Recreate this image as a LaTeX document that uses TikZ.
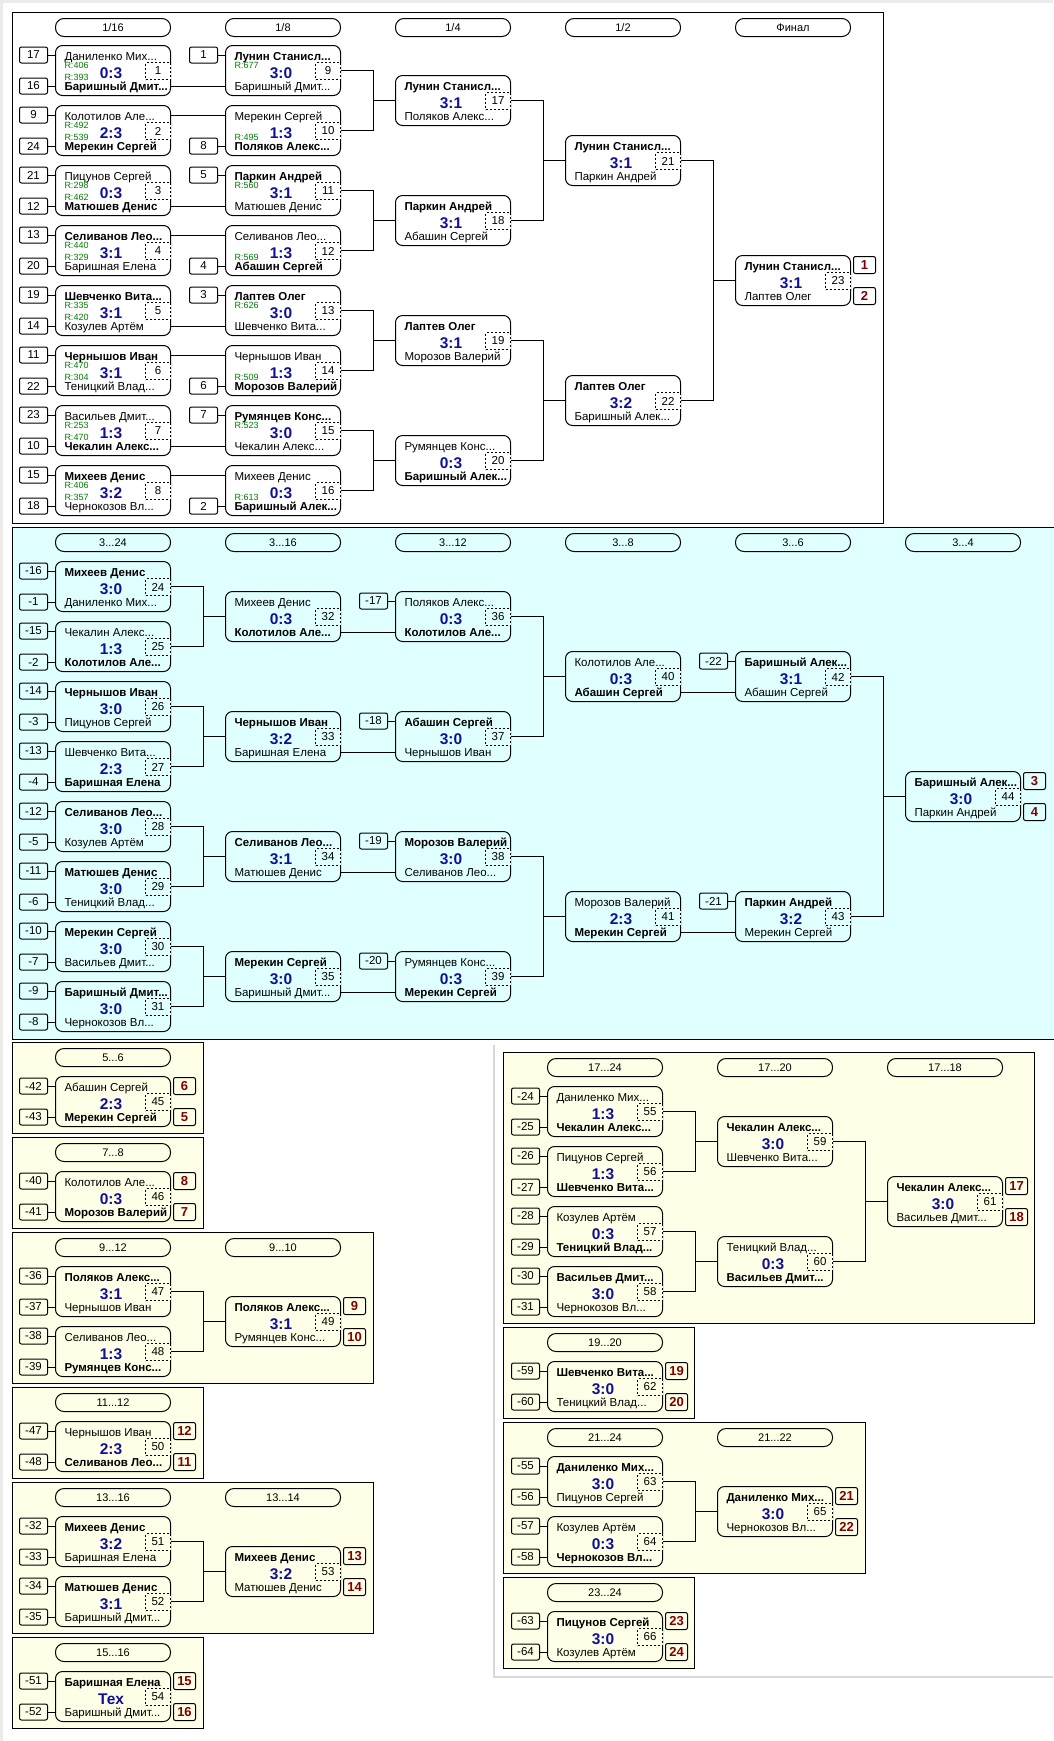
\documentclass[tikz,border=0pt]{standalone}
\usepackage{fontspec}
\setmainfont{Liberation Sans}
\definecolor{scoreblue}{RGB}{16,16,150}
\definecolor{rankred}{RGB}{128,0,0}
\definecolor{ratinggreen}{RGB}{0,128,0}
\definecolor{cyanbg}{RGB}{224,255,255}
\definecolor{yellowbg}{RGB}{255,255,232}
\colorlet{secfill}{white}
\tikzset{
  matchbox/.style={draw, rounded corners=7pt, minimum width=115pt, minimum height=50pt, inner sep=0pt},
  pname/.style={anchor=base west, inner sep=0pt, font=\fontsize{11.5}{13}\selectfont},
  score/.style={anchor=base, inner sep=0pt, text=scoreblue, font=\fontsize{15.5}{17}\selectfont\bfseries},
  numbox/.style={draw, fill=secfill, dash pattern=on 2pt off 2pt, minimum width=25pt, minimum height=17pt, inner sep=0pt, font=\fontsize{11.5}{13}\selectfont},
  seedbox/.style={draw, rounded corners=2pt, minimum width=28pt, minimum height=16pt, inner sep=0pt, font=\fontsize{11.5}{13}\selectfont},
  rankbox/.style={draw, rounded corners=2pt, minimum width=22pt, minimum height=17pt, inner sep=0pt, text=rankred, font=\fontsize{13}{15}\selectfont\bfseries},
  stagebox/.style={draw, rounded corners=8.5pt, minimum width=115pt, minimum height=18pt, inner sep=0pt, font=\fontsize{11}{13}\selectfont},
  rating/.style={anchor=base west, inner sep=0pt, text=ratinggreen, font=\fontsize{9}{10}\selectfont},
  section/.style={draw, line width=1pt},
  panelline/.style={draw=black!15, line width=2pt},
}
\newcommand{\win}[1]{\textbf{#1}}
% one match: name, x, y (top left), upper player, score, lower player, number
\newcommand{\match}[7]{%
  \node[matchbox, anchor=north west] (#1) at (#2,#3) {};
  \coordinate (#1tl) at ([yshift=-10pt]#1.north west);
  \coordinate (#1bl) at ([yshift=-41pt]#1.north west);
  \coordinate (#1tr) at ([yshift=-10pt]#1.north east);
  \coordinate (#1br) at ([yshift=-41pt]#1.north east);
  \node[pname] (#1t) at ([xshift=9pt,yshift=-15pt]#1.north west) {#4};
  \node[pname] (#1b) at ([xshift=9pt,yshift=-45pt]#1.north west) {#6};
  \node[score] (#1sc) at ([xshift=56pt,yshift=-33pt]#1.north west) {#5};
  \node[numbox, anchor=east] (#1n) at ([yshift=-0.5pt]#1.east) {#7};}
\newcommand{\seed}[3]{%
  \node[seedbox, anchor=east] (#1s#2) at ([xshift=-7pt]#1#2l) {#3};
  \draw (#1s#2) -- (#1#2l);}
\newcommand{\ratup}[2]{\node[rating] (#1rt) at ([xshift=9pt,yshift=-23.5pt]#1.north west) {R:#2};}
\newcommand{\ratdn}[2]{\node[rating] (#1rb) at ([xshift=9pt,yshift=-35pt]#1.north west) {R:#2};}
\newcommand{\rank}[3]{%
  \node[rankbox, anchor=north west] (#1ra) at ([xshift=2pt,yshift=-1pt]#1.north east) {#2};
  \node[rankbox, anchor=south west] (#1rb) at ([xshift=2pt,yshift=1pt]#1.south east) {#3};}
\newcommand{\stage}[4]{\node[stagebox, anchor=north west] (#1) at (#2,#3) {#4};}
\newcommand{\pairto}[3]{%
  \draw (#1.east) -- ++(32,0) |- (#2.east) (#1.east) ++(32,0) |- (#3.west);}
\begin{document}
\begin{tikzpicture}[x=1pt, y=-1pt, line width=1pt]
\useasboundingbox (0,0) rectangle (1053,1741);
\fill[black!8] (0,0) rectangle (3,1741);
\fill[black!8] (0,0) rectangle (1053,3);
\draw[panelline] (494,1045) -- (494,1677) -- (1053,1677);

% main draw
\colorlet{secfill}{white}
\draw[section] (12,12) rectangle (883,523);
\stage{h16}{55}{18}{1/16}
\stage{h8}{225}{18}{1/8}
\stage{h4}{395}{18}{1/4}
\stage{h2}{565}{18}{1/2}
\stage{hf}{735}{18}{Финал}
\match{m1}{55}{45}{Даниленко Мих...}{0:3}{\win{Баришный Дмит...}}{1}
\match{m2}{55}{105}{Колотилов Але...}{2:3}{\win{Мерекин Сергей}}{2}
\match{m3}{55}{165}{Пицунов Сергей}{0:3}{\win{Матюшев Денис}}{3}
\match{m4}{55}{225}{\win{Селиванов Лео...}}{3:1}{Баришная Елена}{4}
\match{m5}{55}{285}{\win{Шевченко Вита...}}{3:1}{Козулев Артём}{5}
\match{m6}{55}{345}{\win{Чернышов Иван}}{3:1}{Теницкий Влад...}{6}
\match{m7}{55}{405}{Васильев Дмит...}{1:3}{\win{Чекалин Алекс...}}{7}
\match{m8}{55}{465}{\win{Михеев Денис}}{3:2}{Чернокозов Вл...}{8}
\seed{m1}{t}{17} \seed{m1}{b}{16} \ratup{m1}{406} \ratdn{m1}{393}
\seed{m2}{t}{9}  \seed{m2}{b}{24} \ratup{m2}{492} \ratdn{m2}{539}
\seed{m3}{t}{21} \seed{m3}{b}{12} \ratup{m3}{298} \ratdn{m3}{462}
\seed{m4}{t}{13} \seed{m4}{b}{20} \ratup{m4}{440} \ratdn{m4}{329}
\seed{m5}{t}{19} \seed{m5}{b}{14} \ratup{m5}{335} \ratdn{m5}{420}
\seed{m6}{t}{11} \seed{m6}{b}{22} \ratup{m6}{470} \ratdn{m6}{304}
\seed{m7}{t}{23} \seed{m7}{b}{10} \ratup{m7}{253} \ratdn{m7}{470}
\seed{m8}{t}{15} \seed{m8}{b}{18} \ratup{m8}{406} \ratdn{m8}{357}
\match{m9}{225}{45}{\win{Лунин Станисл...}}{3:0}{Баришный Дмит...}{9}
\match{m10}{225}{105}{Мерекин Сергей}{1:3}{\win{Поляков Алекс...}}{10}
\match{m11}{225}{165}{\win{Паркин Андрей}}{3:1}{Матюшев Денис}{11}
\match{m12}{225}{225}{Селиванов Лео...}{1:3}{\win{Абашин Сергей}}{12}
\match{m13}{225}{285}{\win{Лаптев Олег}}{3:0}{Шевченко Вита...}{13}
\match{m14}{225}{345}{Чернышов Иван}{1:3}{\win{Морозов Валерий}}{14}
\match{m15}{225}{405}{\win{Румянцев Конс...}}{3:0}{Чекалин Алекс...}{15}
\match{m16}{225}{465}{Михеев Денис}{0:3}{\win{Баришный Алек...}}{16}
\seed{m9}{t}{1}  \ratup{m9}{677}
\seed{m10}{b}{8} \ratdn{m10}{495}
\seed{m11}{t}{5} \ratup{m11}{560}
\seed{m12}{b}{4} \ratdn{m12}{569}
\seed{m13}{t}{3} \ratup{m13}{626}
\seed{m14}{b}{6} \ratdn{m14}{509}
\seed{m15}{t}{7} \ratup{m15}{523}
\seed{m16}{b}{2} \ratdn{m16}{613}
\draw (m1br) -- (m9bl);
\draw (m2tr) -- (m10tl);
\draw (m3br) -- (m11bl);
\draw (m4tr) -- (m12tl);
\draw (m5br) -- (m13bl);
\draw (m6tr) -- (m14tl);
\draw (m7br) -- (m15bl);
\draw (m8tr) -- (m16tl);
\match{m17}{395}{75}{\win{Лунин Станисл...}}{3:1}{Поляков Алекс...}{17}
\match{m18}{395}{195}{\win{Паркин Андрей}}{3:1}{Абашин Сергей}{18}
\match{m19}{395}{315}{\win{Лаптев Олег}}{3:1}{Морозов Валерий}{19}
\match{m20}{395}{435}{Румянцев Конс...}{0:3}{\win{Баришный Алек...}}{20}
\match{m21}{565}{135}{\win{Лунин Станисл...}}{3:1}{Паркин Андрей}{21}
\match{m22}{565}{375}{\win{Лаптев Олег}}{3:2}{Баришный Алек...}{22}
\match{m23}{735}{255}{\win{Лунин Станисл...}}{3:1}{Лаптев Олег}{23}
\rank{m23}{1}{2}
\pairto{m9}{m10}{m17}
\pairto{m11}{m12}{m18}
\pairto{m13}{m14}{m19}
\pairto{m15}{m16}{m20}
\pairto{m17}{m18}{m21}
\pairto{m19}{m20}{m22}
\pairto{m21}{m22}{m23}

% places 3..24
\colorlet{secfill}{cyanbg}
\draw[section, fill=cyanbg] (12,527) rectangle (1056,1039);
\stage{h324}{55}{533}{3...24}
\stage{h316}{225}{533}{3...16}
\stage{h312}{395}{533}{3...12}
\stage{h38}{565}{533}{3...8}
\stage{h36}{735}{533}{3...6}
\stage{h34}{905}{533}{3...4}
\match{m24}{55}{561}{\win{Михеев Денис}}{3:0}{Даниленко Мих...}{24}
\match{m25}{55}{621}{Чекалин Алекс...}{1:3}{\win{Колотилов Але...}}{25}
\match{m26}{55}{681}{\win{Чернышов Иван}}{3:0}{Пицунов Сергей}{26}
\match{m27}{55}{741}{Шевченко Вита...}{2:3}{\win{Баришная Елена}}{27}
\match{m28}{55}{801}{\win{Селиванов Лео...}}{3:0}{Козулев Артём}{28}
\match{m29}{55}{861}{\win{Матюшев Денис}}{3:0}{Теницкий Влад...}{29}
\match{m30}{55}{921}{\win{Мерекин Сергей}}{3:0}{Васильев Дмит...}{30}
\match{m31}{55}{981}{\win{Баришный Дмит...}}{3:0}{Чернокозов Вл...}{31}
\seed{m24}{t}{-16} \seed{m24}{b}{-1}
\seed{m25}{t}{-15} \seed{m25}{b}{-2}
\seed{m26}{t}{-14} \seed{m26}{b}{-3}
\seed{m27}{t}{-13} \seed{m27}{b}{-4}
\seed{m28}{t}{-12} \seed{m28}{b}{-5}
\seed{m29}{t}{-11} \seed{m29}{b}{-6}
\seed{m30}{t}{-10} \seed{m30}{b}{-7}
\seed{m31}{t}{-9}  \seed{m31}{b}{-8}
\match{m32}{225}{591}{Михеев Денис}{0:3}{\win{Колотилов Але...}}{32}
\match{m33}{225}{711}{\win{Чернышов Иван}}{3:2}{Баришная Елена}{33}
\match{m34}{225}{831}{\win{Селиванов Лео...}}{3:1}{Матюшев Денис}{34}
\match{m35}{225}{951}{\win{Мерекин Сергей}}{3:0}{Баришный Дмит...}{35}
\match{m36}{395}{591}{Поляков Алекс...}{0:3}{\win{Колотилов Але...}}{36}
\match{m37}{395}{711}{\win{Абашин Сергей}}{3:0}{Чернышов Иван}{37}
\match{m38}{395}{831}{\win{Морозов Валерий}}{3:0}{Селиванов Лео...}{38}
\match{m39}{395}{951}{Румянцев Конс...}{0:3}{\win{Мерекин Сергей}}{39}
\seed{m36}{t}{-17} \seed{m37}{t}{-18} \seed{m38}{t}{-19} \seed{m39}{t}{-20}
\match{m40}{565}{651}{Колотилов Але...}{0:3}{\win{Абашин Сергей}}{40}
\match{m41}{565}{891}{Морозов Валерий}{2:3}{\win{Мерекин Сергей}}{41}
\match{m42}{735}{651}{\win{Баришный Алек...}}{3:1}{Абашин Сергей}{42}
\match{m43}{735}{891}{\win{Паркин Андрей}}{3:2}{Мерекин Сергей}{43}
\seed{m42}{t}{-22} \seed{m43}{t}{-21}
\match{m44}{905}{771}{\win{Баришный Алек...}}{3:0}{Паркин Андрей}{44}
\rank{m44}{3}{4}
\pairto{m24}{m25}{m32}
\pairto{m26}{m27}{m33}
\pairto{m28}{m29}{m34}
\pairto{m30}{m31}{m35}
\draw (m32br) -- (m36bl);
\draw (m33br) -- (m37bl);
\draw (m34br) -- (m38bl);
\draw (m35br) -- (m39bl);
\pairto{m36}{m37}{m40}
\pairto{m38}{m39}{m41}
\draw (m40br) -- (m42bl);
\draw (m41br) -- (m43bl);
\pairto{m42}{m43}{m44}

% places 5..16
\colorlet{secfill}{yellowbg}
\draw[section, fill=yellowbg] (12,1042) rectangle (203,1133);
\stage{h56}{55}{1048}{5...6}
\match{m45}{55}{1076}{Абашин Сергей}{2:3}{\win{Мерекин Сергей}}{45}
\seed{m45}{t}{-42} \seed{m45}{b}{-43} \rank{m45}{6}{5}

\draw[section, fill=yellowbg] (12,1137) rectangle (203,1228);
\stage{h78}{55}{1143}{7...8}
\match{m46}{55}{1171}{Колотилов Але...}{0:3}{\win{Морозов Валерий}}{46}
\seed{m46}{t}{-40} \seed{m46}{b}{-41} \rank{m46}{8}{7}

\draw[section, fill=yellowbg] (12,1232) rectangle (373,1383);
\stage{h912}{55}{1238}{9...12}
\stage{h910}{225}{1238}{9...10}
\match{m47}{55}{1266}{\win{Поляков Алекс...}}{3:1}{Чернышов Иван}{47}
\match{m48}{55}{1326}{Селиванов Лео...}{1:3}{\win{Румянцев Конс...}}{48}
\seed{m47}{t}{-36} \seed{m47}{b}{-37}
\seed{m48}{t}{-38} \seed{m48}{b}{-39}
\match{m49}{225}{1296}{\win{Поляков Алекс...}}{3:1}{Румянцев Конс...}{49}
\rank{m49}{9}{10}
\pairto{m47}{m48}{m49}

\draw[section, fill=yellowbg] (12,1387) rectangle (203,1478);
\stage{h1112}{55}{1393}{11...12}
\match{m50}{55}{1421}{Чернышов Иван}{2:3}{\win{Селиванов Лео...}}{50}
\seed{m50}{t}{-47} \seed{m50}{b}{-48} \rank{m50}{12}{11}

\draw[section, fill=yellowbg] (12,1482) rectangle (373,1633);
\stage{h1316}{55}{1488}{13...16}
\stage{h1314}{225}{1488}{13...14}
\match{m51}{55}{1516}{\win{Михеев Денис}}{3:2}{Баришная Елена}{51}
\match{m52}{55}{1576}{\win{Матюшев Денис}}{3:1}{Баришный Дмит...}{52}
\seed{m51}{t}{-32} \seed{m51}{b}{-33}
\seed{m52}{t}{-34} \seed{m52}{b}{-35}
\match{m53}{225}{1546}{\win{Михеев Денис}}{3:2}{Матюшев Денис}{53}
\rank{m53}{13}{14}
\pairto{m51}{m52}{m53}

\draw[section, fill=yellowbg] (12,1637) rectangle (203,1728);
\stage{h1516}{55}{1643}{15...16}
\match{m54}{55}{1671}{\win{Баришная Елена}}{Тех}{Баришный Дмит...}{54}
\seed{m54}{t}{-51} \seed{m54}{b}{-52} \rank{m54}{15}{16}

% places 17..24
\draw[section, fill=yellowbg] (503,1052) rectangle (1034,1323);
\stage{h1724}{547}{1058}{17...24}
\stage{h1720}{717}{1058}{17...20}
\stage{h1718}{887}{1058}{17...18}
\match{m55}{547}{1086}{Даниленко Мих...}{1:3}{\win{Чекалин Алекс...}}{55}
\match{m56}{547}{1146}{Пицунов Сергей}{1:3}{\win{Шевченко Вита...}}{56}
\match{m57}{547}{1206}{Козулев Артём}{0:3}{\win{Теницкий Влад...}}{57}
\match{m58}{547}{1266}{\win{Васильев Дмит...}}{3:0}{Чернокозов Вл...}{58}
\seed{m55}{t}{-24} \seed{m55}{b}{-25}
\seed{m56}{t}{-26} \seed{m56}{b}{-27}
\seed{m57}{t}{-28} \seed{m57}{b}{-29}
\seed{m58}{t}{-30} \seed{m58}{b}{-31}
\match{m59}{717}{1116}{\win{Чекалин Алекс...}}{3:0}{Шевченко Вита...}{59}
\match{m60}{717}{1236}{Теницкий Влад...}{0:3}{\win{Васильев Дмит...}}{60}
\match{m61}{887}{1176}{\win{Чекалин Алекс...}}{3:0}{Васильев Дмит...}{61}
\rank{m61}{17}{18}
\pairto{m55}{m56}{m59}
\pairto{m57}{m58}{m60}
\pairto{m59}{m60}{m61}

\draw[section, fill=yellowbg] (503,1327) rectangle (694,1418);
\stage{h1920}{547}{1333}{19...20}
\match{m62}{547}{1361}{\win{Шевченко Вита...}}{3:0}{Теницкий Влад...}{62}
\seed{m62}{t}{-59} \seed{m62}{b}{-60} \rank{m62}{19}{20}

\draw[section, fill=yellowbg] (503,1422) rectangle (865,1573);
\stage{h2124}{547}{1428}{21...24}
\stage{h2122}{717}{1428}{21...22}
\match{m63}{547}{1456}{\win{Даниленко Мих...}}{3:0}{Пицунов Сергей}{63}
\match{m64}{547}{1516}{Козулев Артём}{0:3}{\win{Чернокозов Вл...}}{64}
\seed{m63}{t}{-55} \seed{m63}{b}{-56}
\seed{m64}{t}{-57} \seed{m64}{b}{-58}
\match{m65}{717}{1486}{\win{Даниленко Мих...}}{3:0}{Чернокозов Вл...}{65}
\rank{m65}{21}{22}
\pairto{m63}{m64}{m65}

\draw[section, fill=yellowbg] (503,1577) rectangle (694,1668);
\stage{h2324}{547}{1583}{23...24}
\match{m66}{547}{1611}{\win{Пицунов Сергей}}{3:0}{Козулев Артём}{66}
\seed{m66}{t}{-63} \seed{m66}{b}{-64} \rank{m66}{23}{24}
\end{tikzpicture}
\end{document}
